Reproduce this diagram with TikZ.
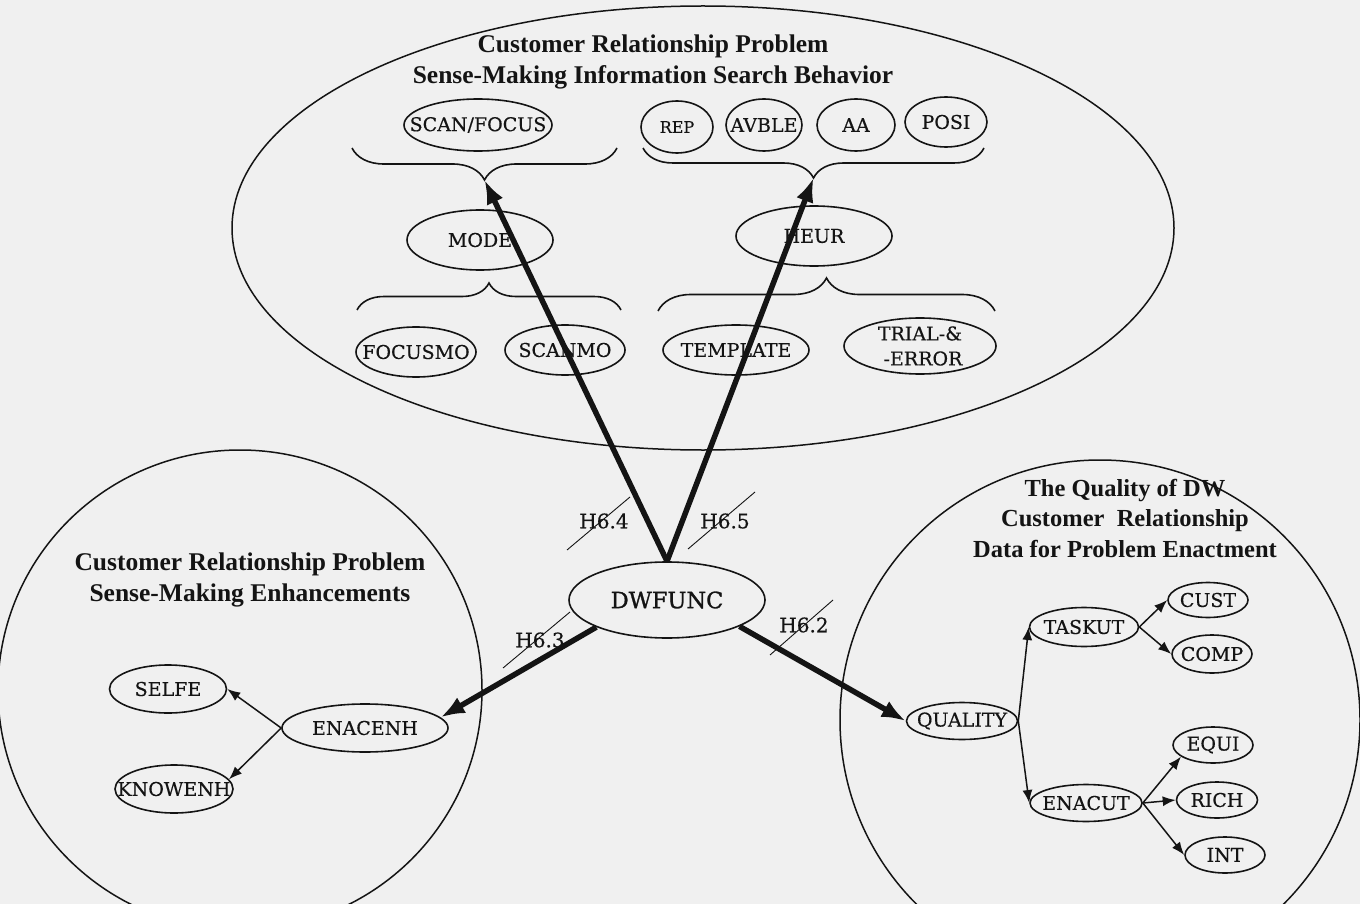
\documentclass[tikz,border=0pt]{standalone}
\usepackage{fontspec}
\setmainfont{Liberation Serif}
\newfontfamily\lblfont[FakeBold=0.4]{DejaVu Serif}
\newfontfamily\hubfont[FakeBold=1.2]{DejaVu Serif}
\usetikzlibrary{shapes.geometric,arrows.meta,decorations.pathreplacing}

\definecolor{paper}{HTML}{F0F0F0}
\definecolor{ink}{HTML}{141414}

\tikzset{
  group/.style={draw=ink, line width=1.5pt, ellipse, inner sep=0pt},
  headfont/.style={font=\bfseries\fontsize{25.5}{31}\selectfont, text=ink, align=center},
  labfont/.style={font=\lblfont\fontsize{19}{21}\selectfont, text=ink, align=center},
  oval/.style n args={3}{draw=ink, ellipse, line width=1.6pt, inner sep=0pt,
    minimum width=#1pt, minimum height=#2pt, label={[labfont]center:#3}},
  curly/.style n args={1}{draw=ink, line width=1.6pt, decorate,
    decoration={brace, amplitude=#1pt, aspect=0.5}},
  bigarrow/.style={draw=ink, line width=5.5pt, -{Latex[length=24pt,width=18pt]}},
  thinarrow/.style={draw=ink, line width=1.5pt, -{Latex[length=13pt,width=10pt]}},
  hyp/.style={font=\lblfont\fontsize{20}{22}\selectfont, text=ink, inner sep=0pt},
  slash/.style={draw=ink, line width=0.9pt},
}

\begin{document}
\begin{tikzpicture}[x=1pt, y=-1pt]
  \useasboundingbox (0,0) rectangle (1360,904);
  \fill[paper] (0,0) rectangle (1360,904);
  \clip (0,0) rectangle (1360,904);

  % three groups of constructs
  \node[group, minimum width=942pt, minimum height=444pt] (topgroup) at (703,228) {};
  \node[group, minimum width=484pt, minimum height=480pt] (leftgroup) at (240,690) {};
  \node[group, minimum width=520pt, minimum height=520pt] (rightgroup) at (1100,720) {};

  % titles
  \node[headfont] (toptitle) at (653,62) {Customer Relationship Problem\\Sense-Making Information Search Behavior};
  \node[headfont] (lefttitle) at (250,580) {Customer Relationship Problem\\Sense-Making Enhancements};
  \node[headfont, font=\bfseries\fontsize{24.5}{30.5}\selectfont] (righttitle) at (1125,518) {The Quality of DW\\Customer~~Relationship\\Data for Problem Enactment};

  % search behaviour: upper row
  \node[oval={148}{52}{SCAN/FOCUS}] (scan) at (478,125) {};
  \node[oval={72}{52}{\fontsize{16}{18}\selectfont REP}] (rep) at (677,127) {};
  \node[oval={76}{52}{AVBLE}] (avble) at (764,125) {};
  \node[oval={78}{52}{AA}] (aa) at (856,125) {};
  \node[oval={82}{50}{POSI}] (posi) at (946,122) {};

  % middle row
  \node[oval={146}{60}{MODE}] (mode) at (480,240) {};
  \node[oval={156}{60}{HEUR}] (heur) at (814,236) {};

  % lower row
  \node[oval={120}{50}{FOCUSMO}] (focusmo) at (416,352) {};
  \node[oval={120}{50}{SCANMO}] (scanmo) at (565,350) {};
  \node[oval={146}{50}{TEMPLATE}] (template) at (736,350) {};
  \node[oval={152}{56}{TRIAL-\&\\[4pt]\hspace{6pt}-ERROR}] (trial) at (920,346) {};

  % braces
  \draw[curly={32}] (617,148) -- (352,148);
  \draw[curly={30}] (984,148) -- (643,148);
  \draw[curly={27}] (357,310) -- (621,310);
  \draw[curly={33}] (658,311) -- (995,311);
  \coordinate (tipUL) at (484.5,180);
  \coordinate (tipUR) at (813.5,178);

  % enhancements
  \node[oval={117}{48}{SELFE}] (selfe) at (168,689) {};
  \node[oval={166}{48}{ENACENH}] (enacenh) at (365,728) {};
  \node[oval={118}{48}{KNOWENH}] (knowenh) at (174,789) {};
  \draw[thinarrow] (enacenh.west) -- (selfe.east);
  \draw[thinarrow] (enacenh.west) -- (knowenh.10);

  % data quality
  \node[oval={111}{37}{QUALITY}] (quality) at (962,721) {};
  \node[oval={109}{39}{TASKUT}] (taskut) at (1084,627) {};
  \node[oval={80}{35}{CUST}] (cust) at (1208,600) {};
  \node[oval={80}{38}{COMP}] (comp) at (1212,654) {};
  \node[oval={112}{37}{ENACUT}] (enacut) at (1086,803) {};
  \node[oval={80}{36}{EQUI}] (equi) at (1213,745) {};
  \node[oval={81}{36}{RICH}] (rich) at (1217,800) {};
  \node[oval={80}{36}{INT}] (int) at (1225,855) {};
  \draw[thinarrow] (quality.east) -- (taskut.west);
  \draw[thinarrow] (quality.east) -- (enacut.west);
  \draw[thinarrow] (taskut.east) -- (cust.west);
  \draw[thinarrow] (taskut.east) -- (comp.west);
  \draw[thinarrow] (enacut.east) -- (equi.200);
  \draw[thinarrow] (enacut.east) -- (rich.west);
  \draw[thinarrow] (enacut.east) -- (int.west);

  % central construct and hypotheses
  \node[oval={196}{76}{\hubfont\fontsize{22.5}{25}\selectfont DWFUNC}] (dw) at (667,600) {};
  \draw[bigarrow] (dw.north) -- (tipUL);
  \draw[bigarrow] (dw.north) -- (tipUR);
  \draw[bigarrow] (dw.201) -- (enacenh.8);
  \draw[bigarrow] (dw.340) -- (quality.west);

  \node[hyp] (h64) at (604,521) {H6.4};
  \node[hyp] (h65) at (725,521) {H6.5};
  \node[hyp] (h63) at (540,640) {H6.3};
  \node[hyp] (h62) at (804,625) {H6.2};
  \draw[slash] ([shift={(-37,29)}]h64.center) -- ([shift={(26,-24)}]h64.center);
  \draw[slash] ([shift={(-37,28)}]h65.center) -- ([shift={(30,-29)}]h65.center);
  \draw[slash] ([shift={(-37,28)}]h63.center) -- ([shift={(30,-28)}]h63.center);
  \draw[slash] ([shift={(-34,30)}]h62.center) -- ([shift={(29,-25)}]h62.center);
\end{tikzpicture}
\end{document}
